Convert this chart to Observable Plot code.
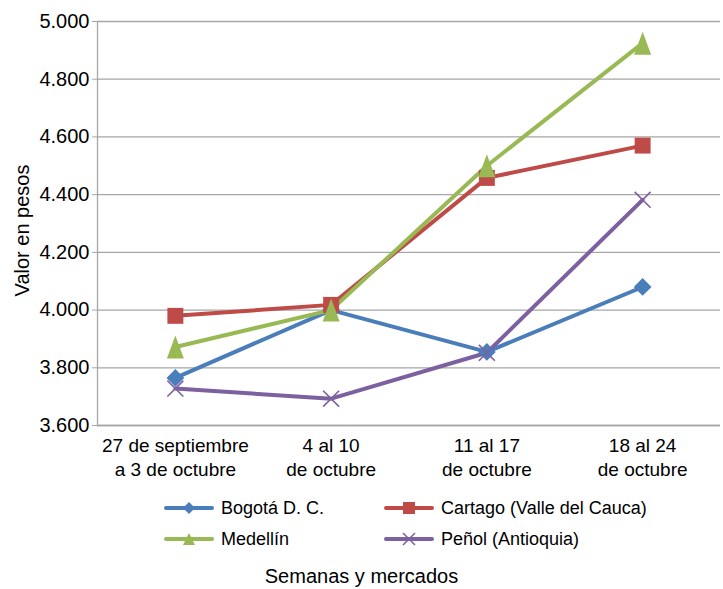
<!DOCTYPE html>
<html>
<head>
<meta charset="utf-8">
<script src="https://cdn.jsdelivr.net/npm/d3@7"></script>
<script src="https://cdn.jsdelivr.net/npm/@observablehq/plot@0.6"></script>
<style>
  html, body { margin: 0; padding: 0; background: #fff; }
  body { width: 723px; height: 589px; overflow: hidden; font-family: "Liberation Sans", Arial, sans-serif; }
  #wrap { position: relative; width: 723px; height: 589px; }
  #legend { position: absolute; left: 0; top: 494px; width: 723px; }
  .item { position: absolute; display: flex; align-items: center; font-size: 18px; color: #000; white-space: nowrap; }
  .item svg { margin-right: 6px; }
  #xtitle { position: absolute; left: 0; width: 723px; top: 565px; text-align: center; font-size: 20px; color: #000; }
</style>
</head>
<body>
<div id="wrap">
  <div id="chart"></div>
  <div id="legend"></div>
  <div id="xtitle">Semanas y mercados</div>
</div>
<script>
const categories = [
  "27 de septiembre\na 3 de octubre",
  "4 al 10\nde octubre",
  "11 al 17\nde octubre",
  "18 al 24\nde octubre"
];
const seriesNames = ["Bogotá D. C.", "Cartago (Valle del Cauca)", "Medellín", "Peñol (Antioquia)"];
const bogota  = [3765, 4000, 3855, 4080];
const cartago = [3980, 4018, 4458, 4570];
const medellin = [3872, 4000, 4500, 4925];
const penol   = [3728, 3693, 3852, 4382];
const yTicks = [3600, 3800, 4000, 4200, 4400, 4600, 4800, 5000];

const colors = ["#4A7EBB", "#BE4B48", "#98B954", "#7D60A0"];
const values = [bogota, cartago, medellin, penol];

const data = [];
seriesNames.forEach((s, si) => values[si].forEach((v, i) => data.push({series: s, si, i, v})));

const triangleTall = {
  draw(ctx, size) {
    ctx.moveTo(0, -11.5);
    ctx.lineTo(8.5, 11.5);
    ctx.lineTo(-8.5, 11.5);
    ctx.closePath();
  }
};

const fmt = d => d3.format(",")(d).replace(",", ".");

const ofSeries = k => data.filter(d => d.si === k);

const chart = Plot.plot({
  width: 723,
  height: 490,
  marginLeft: 97,
  marginRight: 3,
  marginTop: 21,
  marginBottom: 65,
  style: {fontFamily: "Liberation Sans, Arial, sans-serif", fontSize: "19px", color: "#000", background: "#fff"},
  x: {type: "linear", domain: [-0.5, 3.5], axis: null},
  y: {domain: [3600, 5000], axis: null},
  marks: [
    Plot.gridY(yTicks, {stroke: "#a6a6a6", strokeOpacity: 1, strokeWidth: 1.3}),
    Plot.ruleX([-0.5], {stroke: "#a6a6a6", strokeWidth: 1.3}),
    Plot.ruleY([3600], {stroke: "#a6a6a6", strokeWidth: 1.6}),
    Plot.axisY({ticks: yTicks, tickFormat: fmt, tickSize: 5, tickPadding: 3, stroke: "#a6a6a6", fontSize: 20, label: null}),
    Plot.axisX({ticks: [0, 1, 2, 3], tickFormat: i => categories[i], tickSize: 0, tickPadding: 10, lineHeight: 1.25, fontSize: 19, label: null}),
    Plot.text(["Valor en pesos"], {frameAnchor: "left", textAnchor: "middle", dx: -75, dy: 7, rotate: -90, fontSize: 20, text: d => d}),
    ...[0, 1, 2, 3].map(k => Plot.line(ofSeries(k), {x: "i", y: "v", stroke: colors[k], strokeWidth: 4})),
    Plot.dot(ofSeries(0), {x: "i", y: "v", symbol: "diamond2", r: 8, fill: colors[0], stroke: "none"}),
    Plot.dot(ofSeries(1), {x: "i", y: "v", symbol: "square", r: 9, fill: colors[1], stroke: "none"}),
    Plot.dot(ofSeries(2), {x: "i", y: "v", symbol: triangleTall, r: 8, fill: colors[2], stroke: "none"}),
    Plot.dot(ofSeries(3), {x: "i", y: "v", symbol: "times", r: 7.3, stroke: colors[3], strokeWidth: 1.6, fill: "none"})
  ]
});
document.getElementById("chart").appendChild(chart);

// Legend
const legendPos = [
  {left: 163, top: 3}, {left: 383, top: 3},
  {left: 163, top: 34}, {left: 383, top: 34}
];
const leg = d3.select("#legend");
seriesNames.forEach((s, k) => {
  const item = leg.append("div").attr("class", "item")
    .style("left", legendPos[k].left + "px").style("top", legendPos[k].top + "px");
  const svg = item.append("svg").attr("width", 52).attr("height", 22);
  svg.append("line").attr("x1", 3).attr("x2", 49).attr("y1", 11).attr("y2", 11)
    .attr("stroke", colors[k]).attr("stroke-width", 4).attr("stroke-linecap", "round");
  const g = svg.append("g").attr("transform", "translate(26,11)");
  if (k === 0) g.append("path").attr("d", "M0,-6L6,0L0,6L-6,0Z").attr("fill", colors[k]);
  if (k === 1) g.append("rect").attr("x", -6).attr("y", -6).attr("width", 12).attr("height", 12).attr("fill", colors[k]);
  if (k === 2) g.append("path").attr("d", "M0,-6L6,6L-6,6Z").attr("fill", colors[k]);
  if (k === 3) g.append("path").attr("d", "M-6,-6L6,6M6,-6L-6,6").attr("stroke", colors[k]).attr("stroke-width", 1.5).attr("fill", "none");
  item.append("span").text(s);
});
</script>
</body>
</html>
